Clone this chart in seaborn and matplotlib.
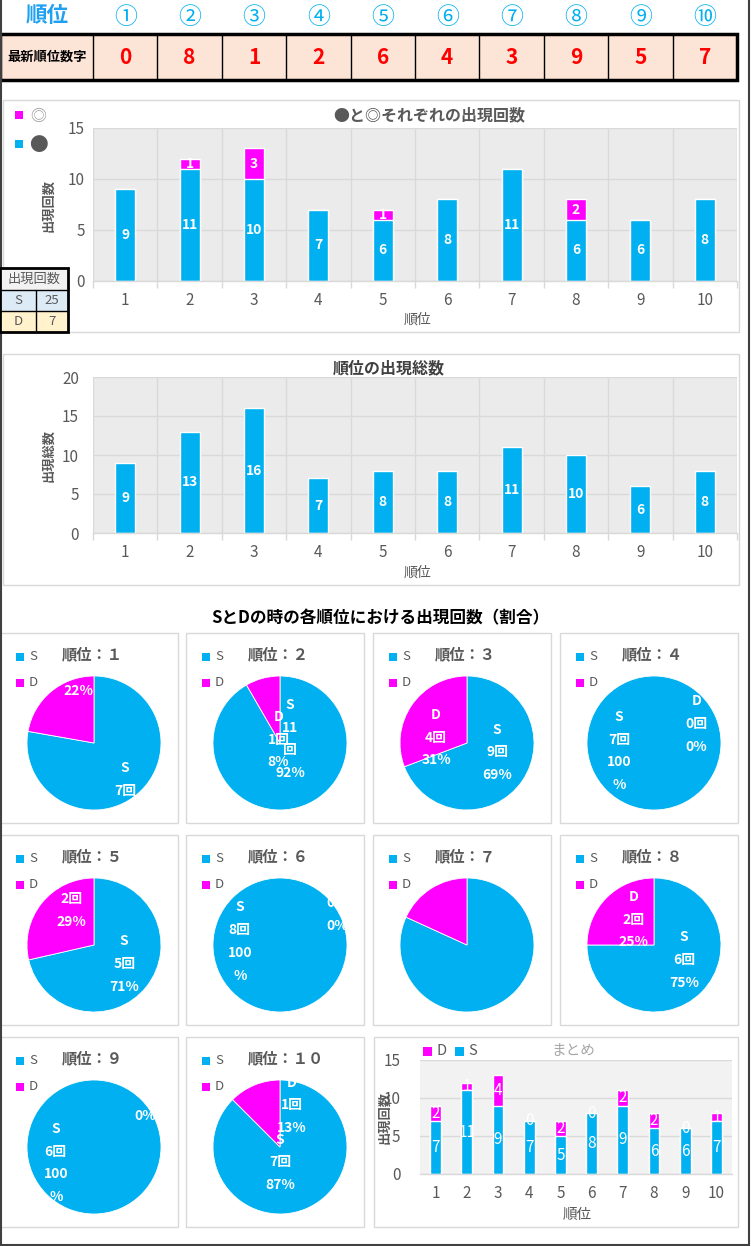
import numpy as np
import pandas as pd
import matplotlib
matplotlib.use("Agg")
import matplotlib.pyplot as plt
from matplotlib.patches import Rectangle
import seaborn as sns

# ---- data ----
ranks = [str(i) for i in range(1, 11)]
rank_marks = ['①', '②', '③', '④', '⑤', '⑥', '⑦', '⑧', '⑨', '⑩']
latest_digits = [0, 8, 1, 2, 6, 4, 3, 9, 5, 7]

black_counts = [9, 11, 10, 7, 6, 8, 11, 6, 6, 8]    # ●
double_counts = [0, 1, 3, 0, 1, 0, 0, 2, 0, 0]      # ◎
total_counts = [9, 13, 16, 7, 8, 8, 11, 10, 6, 8]   # 順位の出現総数

s_counts = [7, 11, 9, 7, 5, 8, 9, 6, 6, 7]
d_counts = [2, 1, 4, 0, 2, 0, 2, 2, 0, 1]

table_rows = ['S', 'D']
table_values = [25, 7]

# where Excel put the data labels inside each pie (S, D), in pie radius units
pie_label_pos = [
    ((0.46, -0.72), (-0.23, 1.12)),
    ((0.15, 0.06), (-0.02, 0.05)),
    ((0.45, -0.14), (-0.46, 0.08)),
    ((-0.52, -0.12), (0.63, 0.28)),
    ((0.45, -0.28), (-0.34, 0.68)),
    ((-0.60, 0.05), (0.85, 0.63)),
    None,
    ((0.45, -0.22), (-0.30, 0.38)),
    ((-0.57, -0.24), (0.77, 0.80)),
    ((0.00, -0.23), (0.18, 0.62)),
]

BLUE = '#00B0F0'
MAGENTA = '#FF00FF'
GRAY = '#595959'
GRID = '#D9D9D9'

sns.set_theme(style="white")
plt.rcParams['font.family'] = ['Noto Sans CJK JP', 'DejaVu Sans']

W, H = 751, 1246
fig = plt.figure(figsize=(W / 100, H / 100), dpi=100)
bg = fig.add_axes([0, 0, 1, 1], zorder=0)
bg.set_xlim(0, W)
bg.set_ylim(H, 0)
bg.axis('off')


def px_axes(x0, y0, w, h):
    return fig.add_axes([x0 / W, 1 - (y0 + h) / H, w / W, h / H], zorder=2)


def box(x, y, w, h, fc='white', ec=GRID, lw=1, z=1):
    bg.add_patch(Rectangle((x, y), w, h, facecolor=fc, edgecolor=ec, linewidth=lw, zorder=z))


def style_axes(ax, ymax, face, ypad, vlines=True):
    ax.set_facecolor(face)
    ax.set_xlim(-0.5, 9.5)
    ax.set_ylim(0, ymax)
    ax.set_yticks(range(0, ymax + 1, 5))
    ax.set_xlabel('')
    ax.set_ylabel('')
    ax.grid(axis='y', color=GRID, linewidth=1)
    if vlines:
        ax.set_xticks(np.arange(-0.5, 10, 1), minor=True)
        ax.grid(axis='x', which='minor', color=GRID, linewidth=1)
        ax.tick_params(axis='x', which='minor', bottom=True, length=5, width=1, color=GRID)
    ax.set_axisbelow(True)
    ax.tick_params(axis='x', which='major', length=0, pad=8, labelsize=11, labelcolor=GRAY)
    ax.tick_params(axis='y', length=0, pad=ypad, labelsize=11, labelcolor=GRAY)
    for side in ['top', 'right', 'left']:
        ax.spines[side].set_visible(False)
    ax.spines['bottom'].set_color(GRID)
    ax.spines['bottom'].set_linewidth(1)


# ---- outer frame ----
bg.plot([1, 1], [0, H], color='#404040', lw=1.5)
bg.plot([748.5, 748.5], [0, H], color='#404040', lw=1.5)
bg.plot([0, 749], [1245, 1245], color='#404040', lw=1.5)

# ---- top table ----
col_x0, col_w = 93, 64.4
bg.text(47, 16, '順位', color='#1FA0F0', fontsize=15.5, fontweight='bold', ha='center', va='center')
for i, m in enumerate(rank_marks):
    bg.text(col_x0 + col_w * (i + 0.5), 17, m, color=BLUE, fontsize=16.5, ha='center', va='center')
box(0, 34, 737, 46, fc='#FCE4D6', ec='black', lw=2.5, z=1)
for i in range(10):
    xl = col_x0 + col_w * i
    bg.plot([xl, xl], [34, 80], color='black', lw=1, zorder=2)
bg.text(47, 57, '最新順位数字', fontsize=9.5, fontweight='bold', color='black', ha='center', va='center')
for i, v in enumerate(latest_digits):
    bg.text(col_x0 + col_w * (i + 0.5), 57, str(v), color='#FF0000', fontsize=15,
            fontweight='bold', ha='center', va='center')

# ---- chart 1: ● and ◎ ----
box(3, 100, 736, 232)
ax1 = px_axes(93, 128, 644, 153)
df1 = pd.DataFrame({'rank': ranks, 'black': black_counts, 'double': double_counts})
df1['total'] = df1['black'] + df1['double']
sns.barplot(data=df1, x='rank', y='total', color=MAGENTA, width=0.31, saturation=1,
            errorbar=None, ax=ax1)
sns.barplot(data=df1, x='rank', y='black', color=BLUE, width=0.31, saturation=1,
            errorbar=None, ax=ax1)
style_axes(ax1, 15, '#EBEBEB', 6)
for i in range(10):
    ax1.text(i, black_counts[i] / 2, str(black_counts[i]), ha='center', va='center',
             color='white', fontsize=10, fontweight='bold')
    if double_counts[i]:
        ax1.text(i, black_counts[i] + double_counts[i] / 2, str(double_counts[i]),
                 ha='center', va='center', color='white', fontsize=10, fontweight='bold')
bg.text(429, 115, '●と◎それぞれの出現回数', fontsize=11.5, fontweight='bold', color=GRAY,
        ha='center', va='center', zorder=3)
bg.text(48, 205, '出現回数', rotation=90, fontsize=9.5, fontweight='bold', color=GRAY,
        ha='center', va='center', zorder=3)
bg.text(417, 320, '順位', fontsize=10, color=GRAY, ha='center', va='center', zorder=3)
box(15, 111, 8, 8, fc=MAGENTA, ec='none', z=3)
bg.text(30, 117, '◎', fontsize=11.5, color='#999999', ha='left', va='center', zorder=3)
box(15, 140, 8, 8, fc=BLUE, ec='none', z=3)
bg.text(29, 146, '●', fontsize=13.5, color=GRAY, ha='left', va='center', zorder=3)

# small count table
box(0, 268, 68, 22, fc='#F2F2F2', ec='none', z=3)
box(0, 290, 68, 21, fc='#DDEBF7', ec='none', z=3)
box(0, 311, 68, 21, fc='#FFF2CC', ec='none', z=3)
bg.plot([0, 68], [290, 290], color='black', lw=1, zorder=4)
bg.plot([0, 68], [311, 311], color='black', lw=1, zorder=4)
bg.plot([36, 36], [290, 332], color='black', lw=1, zorder=4)
box(0, 268, 68, 64, fc='none', ec='black', lw=2, z=4)
bg.text(34, 279, '出現回数', fontsize=9.5, color=GRAY, ha='center', va='center', zorder=5)
for j, (lab, val) in enumerate(zip(table_rows, table_values)):
    yc = 300.5 + 21 * j
    bg.text(18, yc, lab, fontsize=9.5, color=GRAY, ha='center', va='center', zorder=5)
    bg.text(52, yc, str(val), fontsize=9.5, color=GRAY, ha='center', va='center', zorder=5)

# ---- chart 2: totals ----
box(3, 354, 736, 231)
ax2 = px_axes(93, 377, 644, 156)
df2 = pd.DataFrame({'rank': ranks, 'total': total_counts})
sns.barplot(data=df2, x='rank', y='total', color=BLUE, width=0.31, saturation=1,
            errorbar=None, ax=ax2)
style_axes(ax2, 20, '#EBEBEB', 10)
ax2.bar_label(ax2.containers[0], labels=[str(v) for v in total_counts], label_type='center',
              color='white', fontsize=10, fontweight='bold')
bg.text(389, 368, '順位の出現総数', fontsize=11.5, fontweight='bold', color='#404040',
        ha='center', va='center', zorder=3)
bg.text(48, 456, '出現総数', rotation=90, fontsize=9.5, fontweight='bold', color=GRAY,
        ha='center', va='center', zorder=3)
bg.text(417, 573, '順位', fontsize=10, color=GRAY, ha='center', va='center', zorder=3)

# ---- pies ----
bg.text(380, 618, 'SとDの時の各順位における出現回数（割合）', fontsize=12, fontweight='bold',
        color='black', ha='center', va='center')
full = str.maketrans('0123456789', '０１２３４５６７８９')
pie_cols_x = [0, 186, 373, 560]
pie_rows_y = [633, 835, 1037]
R = 67
for k in range(10):
    row, col = divmod(k, 4)
    px0, py0 = pie_cols_x[col], pie_rows_y[row]
    box(px0, py0, 178, 190)
    bg.text(px0 + 62, py0 + 21, '順位：' + ranks[k].translate(full), fontsize=11,
            fontweight='bold', color=GRAY, ha='left', va='center', zorder=3)
    box(px0 + 16, py0 + 20, 8, 8, fc=BLUE, ec='none', z=3)
    bg.text(px0 + 29, py0 + 24, 'S', fontsize=9.5, color=GRAY, ha='left', va='center', zorder=3)
    box(px0 + 16, py0 + 46, 8, 8, fc=MAGENTA, ec='none', z=3)
    bg.text(px0 + 29, py0 + 50, 'D', fontsize=9.5, color=GRAY, ha='left', va='center', zorder=3)

    s, d = s_counts[k], d_counts[k]
    cx, cy = px0 + 94, py0 + 110
    lim = 1.03
    ax = px_axes(cx - R * lim, cy - R * lim, 2 * R * lim, 2 * R * lim)
    wedges, _ = ax.pie([s, d], colors=[BLUE, MAGENTA], startangle=90, counterclock=False,
                       radius=1, wedgeprops=dict(edgecolor='white', linewidth=0.6))
    for w_, v in zip(wedges, [s, d]):
        if v == 0:
            w_.set_linewidth(0)
    ax.set_xlim(-lim, lim)
    ax.set_ylim(-lim, lim)
    ax.axis('off')

    if pie_label_pos[k] is None:
        continue
    n = s + d
    d_pct = int(100 * d / n + 0.5)
    s_pct = 100 - d_pct
    s_lines = ['S'] + ([str(s), '回'] if s >= 10 else [f'{s}回']) + \
        (['100', '%'] if s_pct == 100 else [f'{s_pct}%'])
    d_lines = ['D', f'{d}回', f'{d_pct}%']
    for lines, (lx, ly) in zip([s_lines, d_lines], pie_label_pos[k]):
        ax.text(lx, ly, '\n'.join(lines), ha='center', va='center', color='white',
                fontsize=10, fontweight='bold', linespacing=1.8, clip_on=True)

# ---- summary chart ----
box(374, 1037, 364, 190)
ax3 = px_axes(420, 1060, 312, 114)
df3 = pd.DataFrame({'rank': ranks, 'S': s_counts, 'D': d_counts})
df3['total'] = df3['S'] + df3['D']
sns.barplot(data=df3, x='rank', y='total', color=MAGENTA, width=0.34, saturation=1,
            errorbar=None, ax=ax3)
sns.barplot(data=df3, x='rank', y='S', color=BLUE, width=0.34, saturation=1,
            errorbar=None, ax=ax3)
style_axes(ax3, 15, '#F2F2F2', 14, vlines=False)
for i in range(10):
    ax3.text(i, s_counts[i] / 2, str(s_counts[i]), ha='center', va='center',
             color='white', fontsize=11)
    ax3.text(i, s_counts[i] + d_counts[i] / 2, str(d_counts[i]), ha='center', va='center',
             color='white', fontsize=11)
bg.text(573, 1051, 'まとめ', fontsize=10.5, color='#A6A6A6', ha='center', va='center', zorder=3)
box(423, 1047, 9, 9, fc=MAGENTA, ec='none', z=3)
bg.text(436, 1051, 'D', fontsize=10.5, color=GRAY, ha='left', va='center', zorder=3)
box(455, 1047, 9, 9, fc=BLUE, ec='none', z=3)
bg.text(468, 1051, 'S', fontsize=10.5, color=GRAY, ha='left', va='center', zorder=3)
bg.text(384, 1117, '出現回数', rotation=90, fontsize=9.5, fontweight='bold', color=GRAY,
        ha='center', va='center', zorder=3)
bg.text(577, 1215, '順位', fontsize=10.5, color=GRAY, ha='center', va='center', zorder=3)

fig.savefig('out.png', dpi=100)
